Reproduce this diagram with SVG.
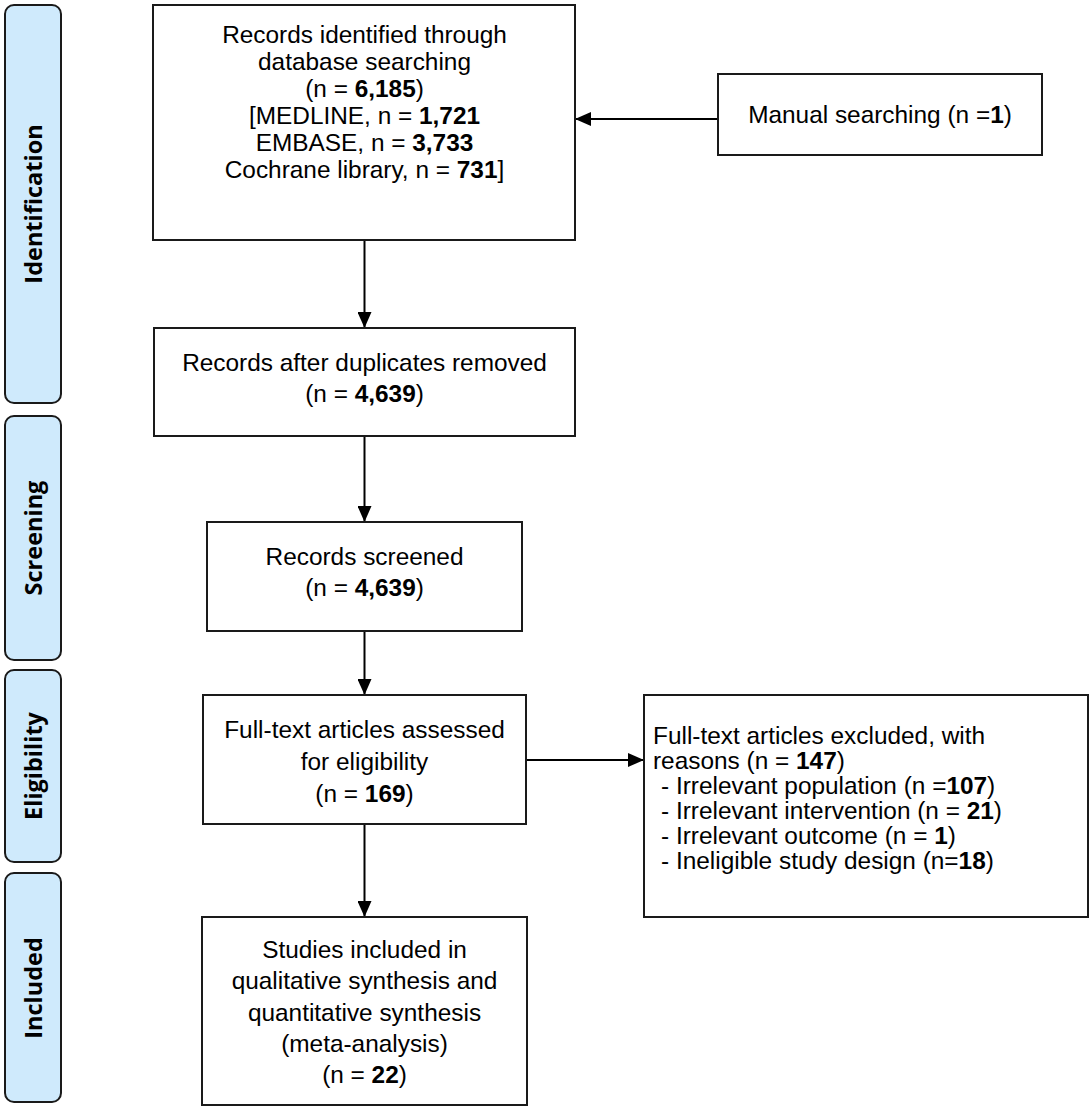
<svg xmlns="http://www.w3.org/2000/svg" width="1092" height="1110" viewBox="0 0 1092 1110">
<style>
.box{fill:#fff;stroke:#1a1a1a;stroke-width:2}
.stage{fill:#cfeafc;stroke:#1a1a1a;stroke-width:2}
.t{font-family:"Liberation Sans",Arial,sans-serif;font-size:24.4px;fill:#000}
.c{text-anchor:middle}
.b{font-weight:bold}
.sl{font-family:"Open Sans","DejaVu Sans",sans-serif;font-size:23.5px;font-weight:bold;fill:#000;text-anchor:middle}
.edge{stroke:#000;stroke-width:2;fill:none}
</style>
<defs>
<marker id="ah" markerWidth="16" markerHeight="14" refX="16" refY="7" orient="auto" markerUnits="userSpaceOnUse">
<path d="M0,0 L16,7 L0,14 Z" fill="#000"/>
</marker>
</defs>
<rect width="1092" height="1110" fill="#fff"/>
<g id="stage-identification">
<rect class="stage" x="5" y="5" width="56" height="398" rx="9"/>
<text class="sl" transform="translate(42,204) rotate(-90)">Identification</text>
</g>
<g id="stage-screening">
<rect class="stage" x="5" y="416" width="56" height="244" rx="9"/>
<text class="sl" transform="translate(42,538) rotate(-90)">Screening</text>
</g>
<g id="stage-eligibility">
<rect class="stage" x="5" y="670" width="56" height="192" rx="9"/>
<text class="sl" transform="translate(42,766) rotate(-90)">Eligibility</text>
</g>
<g id="stage-included">
<rect class="stage" x="5" y="873" width="56" height="229" rx="9"/>
<text class="sl" transform="translate(42,988) rotate(-90)">Included</text>
</g>
<g id="connectors">
<line class="edge" x1="718" y1="119" x2="575" y2="119" marker-end="url(#ah)"/>
<line class="edge" x1="364.5" y1="240" x2="364.5" y2="328" marker-end="url(#ah)"/>
<line class="edge" x1="364.5" y1="436" x2="364.5" y2="522" marker-end="url(#ah)"/>
<line class="edge" x1="364.5" y1="631" x2="364.5" y2="695" marker-end="url(#ah)"/>
<line class="edge" x1="526" y1="760" x2="644" y2="760" marker-end="url(#ah)"/>
<line class="edge" x1="364.5" y1="824" x2="364.5" y2="917" marker-end="url(#ah)"/>
</g>
<g id="node-identified">
<rect class="box" x="153" y="5" width="422" height="235"/>
<text class="t c" x="364.5" y="43">Records identified through</text>
<text class="t c" x="364.5" y="70">database searching</text>
<text class="t c" x="364.5" y="97">(n = <tspan class="b">6,185</tspan>)</text>
<text class="t c" x="364.5" y="124">[MEDLINE, n = <tspan class="b">1,721</tspan></text>
<text class="t c" x="364.5" y="151">EMBASE, n = <tspan class="b">3,733</tspan></text>
<text class="t c" x="364.5" y="178">Cochrane library, n = <tspan class="b">731</tspan>]</text>
</g>
<g id="node-manual">
<rect class="box" x="718" y="74" width="324" height="81"/>
<text class="t c" x="880" y="123">Manual searching (n =<tspan class="b">1</tspan>)</text>
</g>
<g id="node-dedup">
<rect class="box" x="154" y="328" width="421" height="108"/>
<text class="t c" x="364.5" y="371">Records after duplicates removed</text>
<text class="t c" x="364.5" y="402">(n = <tspan class="b">4,639</tspan>)</text>
</g>
<g id="node-screened">
<rect class="box" x="207" y="522" width="315" height="109"/>
<text class="t c" x="364.5" y="565">Records screened</text>
<text class="t c" x="364.5" y="596">(n = <tspan class="b">4,639</tspan>)</text>
</g>
<g id="node-fulltext">
<rect class="box" x="203" y="695" width="323" height="129"/>
<text class="t c" x="364.5" y="738">Full-text articles assessed</text>
<text class="t c" x="364.5" y="770">for eligibility</text>
<text class="t c" x="364.5" y="802">(n = <tspan class="b">169</tspan>)</text>
</g>
<g id="node-excluded">
<rect class="box" x="644" y="695" width="444" height="222"/>
<text class="t" x="653" y="744">Full-text articles excluded, with</text>
<text class="t" x="653" y="769">reasons (n = <tspan class="b">147</tspan>)</text>
<text class="t" x="661" y="794">- Irrelevant population (n =<tspan class="b">107</tspan>)</text>
<text class="t" x="661" y="819">- Irrelevant intervention (n = <tspan class="b">21</tspan>)</text>
<text class="t" x="661" y="844">- Irrelevant outcome (n = <tspan class="b">1</tspan>)</text>
<text class="t" x="661" y="869">- Ineligible study design (n=<tspan class="b">18</tspan>)</text>
</g>
<g id="node-included">
<rect class="box" x="202" y="917" width="325" height="188"/>
<text class="t c" x="364.5" y="958">Studies included in</text>
<text class="t c" x="364.5" y="989">qualitative synthesis and</text>
<text class="t c" x="364.5" y="1021">quantitative synthesis</text>
<text class="t c" x="364.5" y="1052">(meta-analysis)</text>
<text class="t c" x="364.5" y="1083">(n = <tspan class="b">22</tspan>)</text>
</g>
</svg>
